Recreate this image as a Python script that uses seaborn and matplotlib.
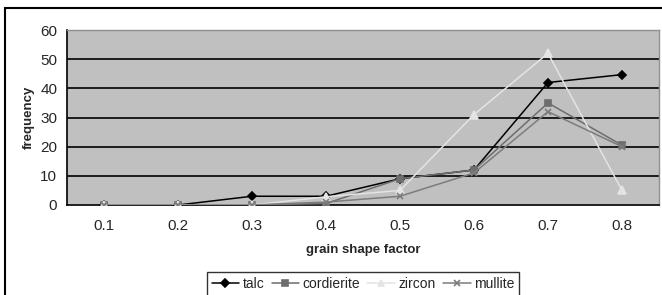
import matplotlib
matplotlib.use("Agg")
import matplotlib.pyplot as plt
import seaborn as sns
import pandas as pd
from matplotlib.patches import Rectangle

categories = ["0.1", "0.2", "0.3", "0.4", "0.5", "0.6", "0.7", "0.8"]
talc = [0, 0, 3, 3, 9, 12, 42, 44.7]
cordierite = [0, 0, 0, 0.5, 9, 12, 35, 20.5]
zircon = [0, 0, 0, 2.8, 5, 31, 52, 5]
mullite = [0, 0, 0, 1, 3, 11, 32, 20]

series = {"talc": talc, "cordierite": cordierite, "zircon": zircon, "mullite": mullite}
colors = {"talc": "#000000", "cordierite": "#6e6e6e", "zircon": "#e4e4e4", "mullite": "#7c7c7c"}
markers = {"talc": "D", "cordierite": "s", "zircon": "^", "mullite": "x"}
msizes = {"talc": 4.5, "cordierite": 5, "zircon": 5.5, "mullite": 4.5}

sns.set_style("white")
plt.rcParams["font.family"] = ["Liberation Sans", "DejaVu Sans"]

fig = plt.figure(figsize=(6.62, 2.95), dpi=100)
ax = fig.add_axes([67/662, 1-205/295, (659-67)/662, (205-30)/295])
ax.set_facecolor("#c0c0c0")

pos = list(range(len(categories)))
for name, vals in series.items():
    df = pd.DataFrame({"x": pos, "y": vals})
    sns.lineplot(data=df, x="x", y="y", ax=ax, color=colors[name], marker=markers[name],
                 markersize=msizes[name], markeredgecolor=colors[name], markeredgewidth=1.2,
                 linewidth=1.1, label=name, legend=False, zorder=3)

ax.set_xlim(-0.5, len(categories)-0.5)
ax.set_ylim(0, 60)
ax.set_yticks([0, 10, 20, 30, 40, 50, 60])
ax.set_xticks(pos)
ax.set_xticklabels(categories)
ax.set_xticks([p-0.5 for p in range(len(categories)+1)], minor=True)
ax.tick_params(axis="x", which="major", length=0, pad=10, labelsize=11)
ax.tick_params(axis="x", which="minor", length=4, width=1, color="black", direction="out")
ax.tick_params(axis="y", length=4, width=1, color="black", direction="out", labelsize=11, pad=3)
for y in [10, 20, 30, 40, 50]:
    ax.axhline(y, color="black", linewidth=1.2, zorder=1)
for s in ["left", "bottom"]:
    ax.spines[s].set_color("black")
    ax.spines[s].set_linewidth(1.2)
for s in ["top", "right"]:
    ax.spines[s].set_color("#909090")
    ax.spines[s].set_linewidth(1)

ax.set_xlabel("grain shape factor", fontsize=9.5, fontweight="bold", labelpad=8)
ax.set_ylabel("frequency", fontsize=9.5, fontweight="bold", labelpad=4)

handles, labels = ax.get_legend_handles_labels()
leg = fig.legend(handles, labels, loc="upper center", bbox_to_anchor=(363/662, 1-272/295),
                 ncol=4, frameon=True, fancybox=False, fontsize=10, handlelength=2.0,
                 handletextpad=0.25, columnspacing=0.5, borderpad=0.35, borderaxespad=0,
                 edgecolor="black", markerscale=0.85)
leg.get_frame().set_linewidth(1)

fig.patches.append(Rectangle((5/662, -0.1), 1.1, 1-8/295+0.1, transform=fig.transFigure,
                             fill=False, edgecolor="black", linewidth=1.5, zorder=0))

fig.savefig("out.png", dpi=100)
